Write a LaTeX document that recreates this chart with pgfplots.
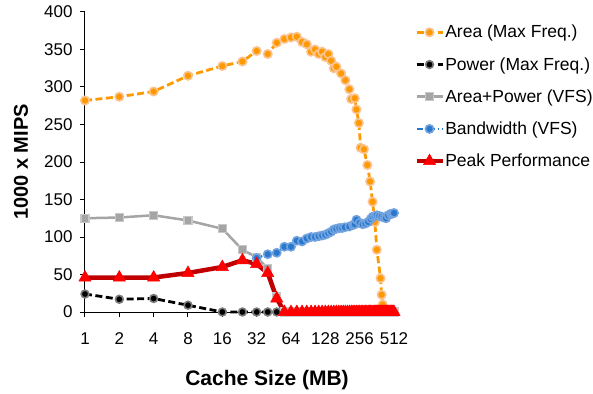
\documentclass[border=0pt]{standalone}
\usepackage{fontspec}
\setmainfont{Liberation Sans}
\usepackage{pgfplots}
\pgfplotsset{compat=1.18}
\definecolor{areaorange}{RGB}{255,153,0}
\definecolor{areahalo}{RGB}{250,196,146}
\definecolor{powhalo}{RGB}{125,125,125}
\definecolor{graycol}{RGB}{165,165,165}
\definecolor{grayhalo}{RGB}{200,200,200}
\definecolor{bluecol}{RGB}{40,120,205}
\definecolor{bluehalo}{RGB}{115,163,222}
\definecolor{darkred}{RGB}{192,0,0}
\definecolor{brightred}{RGB}{255,0,0}
\begin{document}
\begin{tikzpicture}
\useasboundingbox (-85bp,-82bp) rectangle (508bp,312bp);
\begin{axis}[
  at={(0,0)}, anchor=south west,
  scale only axis, width=309bp, height=300bp,
  xmode=log, log basis x=2,
  xmin=1, xmax=512, ymin=0, ymax=400,
  axis x line=bottom, axis y line=left,
  axis line style={-, line width=1bp, black},
  xtick={1,2,4,8,16,32,64,128,256,512},
  xticklabels={1,2,4,8,16,32,64,128,256,512},
  xminorticks=false,
  ytick={0,50,...,400},
  tick align=outside, major tick length=5bp,
  tick style={black, line width=1bp},
  /pgf/number format/assume math mode=true,
  tick label style={font=\fontsize{17bp}{20bp}\selectfont},
  xticklabel style={yshift=-12bp},
  yticklabel style={xshift=-4bp},
  xlabel={Cache Size (MB)},
  ylabel={1000 x MIPS},
  xlabel style={font=\bfseries\fontsize{21bp}{25bp}\selectfont, at={(axis description cs:0.589,-0.227)}, anchor=center},
  ylabel style={font=\bfseries\fontsize{20bp}{24bp}\selectfont, at={(axis description cs:-0.207,0.5)}, anchor=center},
  clip=false,
  legend cell align=left,
  legend style={at={(axis description cs:1.065,0.958)}, anchor=north west,
    draw=none, fill=none, font=\fontsize{17.5bp}{20bp}\selectfont,
    row sep=17bp, inner sep=0pt, nodes={inner sep=0.5bp}},
  legend image code/.code={\draw[mark repeat=2,mark phase=2] plot coordinates {(0bp,0bp) (13bp,0bp) (26bp,0bp)};},
]
% Area (Max Freq.)
\addplot[areaorange, line width=2.8bp, dash pattern=on 7bp off 3.5bp,
  mark=*, mark size=4.2bp, mark options={solid, fill=areaorange, draw=areahalo, line width=1.6bp}]
coordinates {(1,282)(2,287)(4,294)(8,315)(16,328)(24,334)(32,348)(40,344)(48,359)(56,364)(64,366)(72,367)(80,360)(88,357)(96,347)(104,350)(112,344)(120,347)(128,340)(136,344)(144,335)(152,325)(160,327)(176,318)(192,309)(208,297)(216,284)(232,285)(240,270)(252,252)(261,219)(279,217)(299,196)(316,174)(332,147)(348,120)(362,83)(390,45)(399,23)(407,10)};
\addlegendentry{Area (Max Freq.)}
% Power (Max Freq.)
\addplot[black, line width=2.8bp, dash pattern=on 7bp off 3.5bp,
  mark=*, mark size=3.9bp, mark options={solid, fill=black, draw=powhalo, line width=1.6bp}]
coordinates {(1,24)(2,17)(4,18)(8,9)(16,0)(24,0)(32,0)(40,0)(48,0)};
\addlegendentry{Power (Max Freq.)}
% Area+Power (VFS)
\addplot[graycol, line width=2.5bp, solid,
  mark=square*, mark size=4bp, mark options={solid, fill=graycol, draw=grayhalo, line width=1.4bp}]
coordinates {(1,125)(2,126)(4,129)(8,122)(16,111)(24,83)(32,73)(40,58)(48,20)
(56,0)(64,0)(72,0)(80,0)(88,0)(96,0)(104,0)(112,0)(120,0)(128,0)(136,0)(144,0)(152,0)(160,0)(168,0)(176,0)(184,0)(192,0)(200,0)(208,0)(216,0)(224,0)(232,0)(240,0)(248,0)(256,0)(264,0)(272,0)(280,0)(288,0)(296,0)(304,0)(312,0)(320,0)(328,0)(336,0)(344,0)(352,0)(360,0)(368,0)(376,0)(384,0)(392,0)(400,0)(408,0)(416,0)(424,0)(432,0)(440,0)(448,0)(456,0)(464,0)(472,0)(480,0)(488,0)(496,0)(504,0)(512,0)};
\addlegendentry{Area+Power (VFS)}
% Bandwidth (VFS)
\addplot[bluecol, line width=2.2bp, dash pattern=on 6bp off 2.5bp on 1.5bp off 2.5bp,
  mark=*, mark size=4.1bp, mark options={solid, fill=bluecol, draw=bluehalo, line width=1.6bp}]
coordinates {(32,72)(40,77)(48,79)(56,87)(64,87)(72,95)(80,94)(88,98)(96,100)(104,100)(112,101)(120,102)(128,103)(136,105)(144,107)(152,110)(160,111)(170,112)(180,112)(190,113)(208,114)(224,116)(232,117)(240,123)(256,119)(272,117)(288,118)(304,120)(320,124)(332,127)(348,128)(362,129)(380,128)(399,127)(420,126)(436,125)(456,129)(480,131)(496,131)(512,132)};
\addlegendentry{Bandwidth (VFS)}
% Peak Performance
\addplot[darkred, line width=4.5bp, solid,
  mark=triangle*, mark size=7bp, mark options={solid, fill=brightred, draw=brightred, line width=0.5bp}]
coordinates {(1,46)(2,46)(4,46)(8,52)(16,60)(24,69)(32,64)(40,52)(48,18)
(56,0)(64,0)(72,0)(80,0)(88,0)(96,0)(104,0)(112,0)(120,0)(128,0)(136,0)(144,0)(152,0)(160,0)(168,0)(176,0)(184,0)(192,0)(200,0)(208,0)(216,0)(224,0)(232,0)(240,0)(248,0)(256,0)(264,0)(272,0)(280,0)(288,0)(296,0)(304,0)(312,0)(320,0)(328,0)(336,0)(344,0)(352,0)(360,0)(368,0)(376,0)(384,0)(392,0)(400,0)(408,0)(416,0)(424,0)(432,0)(440,0)(448,0)(456,0)(464,0)(472,0)(480,0)(488,0)(496,0)(504,0)(512,0)};
\addlegendentry{Peak Performance}
\end{axis}
\end{tikzpicture}
\end{document}
